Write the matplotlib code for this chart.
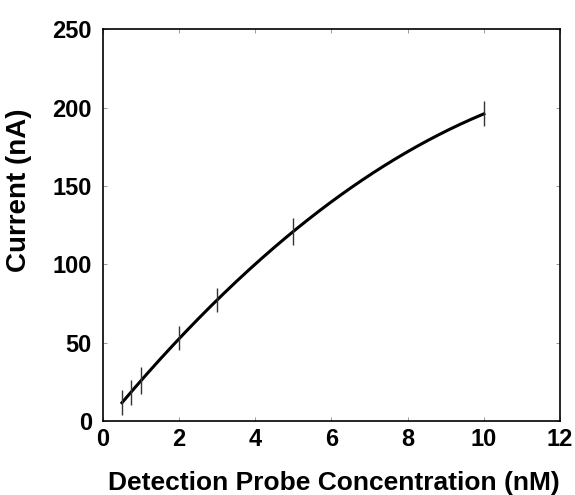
import numpy as np
import matplotlib
matplotlib.use("Agg")
import matplotlib.pyplot as plt

plt.rcParams['font.family'] = ['Liberation Sans', 'DejaVu Sans']

conc = [0.5, 0.75, 1.0, 2.0, 3.0, 5.0, 10.0]
current = [12, 18, 26, 53, 77, 121, 196]
err = [8, 8, 8.5, 7.7, 7.7, 8.5, 8]

fig = plt.figure(figsize=(5.75, 4.95), dpi=100)
ax = fig.add_axes([0.179, 0.1495, 0.795, 0.7915])

coef = np.polyfit(conc, current, 2)
xs = np.linspace(min(conc), max(conc), 200)
ax.plot(xs, np.polyval(coef, xs), color='black', lw=2.2)
ax.errorbar(conc, current, yerr=err, fmt='none', ecolor='#333333', elinewidth=1, capsize=0)

ax.set_xlim(0, 12)
ax.set_ylim(0, 250)
ax.set_xticks([0, 2, 4, 6, 8, 10, 12])
ax.set_yticks([0, 50, 100, 150, 200, 250])
ax.tick_params(direction='in', length=3, width=0.6, color='#888888', labelsize=17,
               top=True, right=True)
ax.tick_params(axis='y', pad=8)
ax.tick_params(axis='x', pad=5)
for lab in ax.get_xticklabels() + ax.get_yticklabels():
    lab.set_fontweight('bold')
for s in ax.spines.values():
    s.set_linewidth(1.2)
ax.set_xlabel('Detection Probe Concentration (nM)', fontsize=19, fontweight='bold')
ax.xaxis.set_label_coords(0.505, -0.127)
ax.set_ylabel('Current (nA)', fontsize=20, fontweight='bold')
ax.yaxis.set_label_coords(-0.155, 0.59)

fig.savefig('out.png', dpi=100)
